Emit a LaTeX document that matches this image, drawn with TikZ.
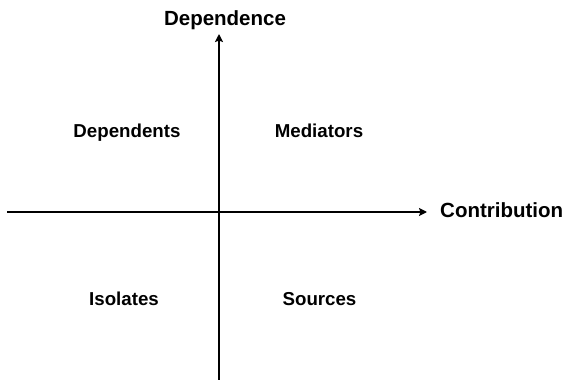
\documentclass[tikz,border=0pt]{standalone}
\usepackage{fontspec}
\setmainfont{Liberation Sans}
\usetikzlibrary{arrows.meta}
\begin{document}
\begin{tikzpicture}[x=1pt,y=-1pt,
  axis/.style={line width=1.6pt,-{Stealth[length=8pt,width=8pt,inset=1.5pt]}},
  axislabel/.style={font=\fontsize{20.5}{24}\selectfont\bfseries,inner sep=0pt,anchor=base},
  quadlabel/.style={font=\fontsize{18.7}{22}\selectfont\bfseries,inner sep=0pt,anchor=base}]
\useasboundingbox (0,0) rectangle (563,380);
\coordinate (hs) at (7,212);
\coordinate (he) at (427,212);
\coordinate (vs) at (219,380);
\coordinate (ve) at (219,34);
\draw[axis] (hs) -- (he);
\draw[axis] (vs) -- (ve);
\node[axislabel] (dep) at (225,26) {Dependence};
\node[axislabel,anchor=base west] (con) at (440,217) {Contribution};
\node[quadlabel] (dps) at (127,137) {Dependents};
\node[quadlabel] (med) at (319,137) {Mediators};
\node[quadlabel] (iso) at (124,305) {Isolates};
\node[quadlabel] (src) at (319.5,305) {Sources};
\end{tikzpicture}
\end{document}
